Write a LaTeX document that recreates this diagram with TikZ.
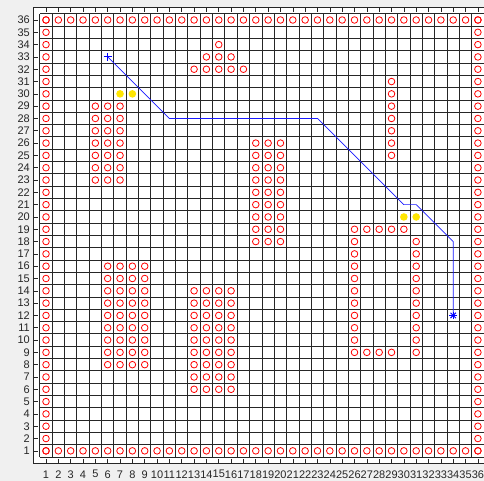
\documentclass[tikz,border=0pt]{standalone}
\usepackage{fontspec}
\setmainfont{Liberation Sans}
\definecolor{figbg}{HTML}{F0F0F0}
\definecolor{axgray}{HTML}{262626}
\definecolor{dotyellow}{HTML}{FFE600}
\tikzset{
  gridline/.style={draw=black!85, line width=0.9pt},
  axisline/.style={draw=axgray, line width=0.6pt},
  ticklabel/.style={font=\fontsize{11}{12}\selectfont, text=axgray, inner sep=0pt},
  obst/.style={draw=red, line width=0.8pt},
  goaldot/.style={fill=dotyellow, draw=none},
  pathline/.style={draw=blue!90, line width=0.7pt},
  markline/.style={draw=blue, line width=1pt}
}
\begin{document}
\begin{tikzpicture}[x=1pt,y=1pt]
\fill[figbg] (0,0) rectangle (484,481);
\useasboundingbox (0,0) rectangle (484,481);
\begin{scope}[shift={(33.66pt,17.84pt)}, x=12.34pt, y=12.31pt]
  \fill[white] (0,0) rectangle (37,37);
  % grid
  \foreach \i in {0,...,36} {
    \draw[gridline] (\i+0.5,0.5) -- (\i+0.5,36.5);
    \draw[gridline] (0.5,\i+0.5) -- (36.5,\i+0.5);
  }
  % axes box and ticks
  \draw[axisline] (37,37) -- (0,37) -- (0,0) -- (37,0);
  \foreach \i in {1,...,36} {
    \draw[axisline] (\i,0) -- ++(0,4.5pt);
    \draw[axisline] (\i,37) -- ++(0,-4.5pt);
    \draw[axisline] (0,\i) -- ++(4.5pt,0);
    \node[ticklabel, anchor=east] (yl\i) at (-0.3,\i) {\i};
    \node[ticklabel] (xl\i) at (\i,-0.9) {\i};
  }
  % border obstacles
  \foreach \i in {1,...,36} {
    \draw[obst] (\i,1) circle[radius=3.3pt];
    \draw[obst] (\i,36) circle[radius=3.3pt];
    \draw[obst] (1,\i) circle[radius=3.3pt];
    \draw[obst] (36,\i) circle[radius=3.3pt];
  }
  % block left top
  \foreach \x in {5,6,7} \foreach \y in {23,...,29} \draw[obst] (\x,\y) circle[radius=3.3pt];
  % triangle
  \foreach \x in {13,...,17} \draw[obst] (\x,32) circle[radius=3.3pt];
  \foreach \x in {14,15,16} \draw[obst] (\x,33) circle[radius=3.3pt];
  \draw[obst] (15,34) circle[radius=3.3pt];
  % middle block
  \foreach \x in {18,19,20} \foreach \y in {18,...,26} \draw[obst] (\x,\y) circle[radius=3.3pt];
  % lower left block
  \foreach \x in {6,...,9} \foreach \y in {8,...,16} \draw[obst] (\x,\y) circle[radius=3.3pt];
  % lower middle block
  \foreach \x in {13,...,16} \foreach \y in {6,...,14} \draw[obst] (\x,\y) circle[radius=3.3pt];
  % right column
  \foreach \y in {25,...,31} \draw[obst] (29,\y) circle[radius=3.3pt];
  % C shape
  \foreach \x in {26,...,30} \draw[obst] (\x,19) circle[radius=3.3pt];
  \foreach \y in {9,...,18} \draw[obst] (26,\y) circle[radius=3.3pt];
  \foreach \x in {27,28,29} \draw[obst] (\x,9) circle[radius=3.3pt];
  \foreach \y in {9,...,18} \draw[obst] (31,\y) circle[radius=3.3pt];
  % yellow dots
  \foreach \p in {(7,30),(8,30),(30,20),(31,20)} \fill[goaldot] \p circle[radius=3.8pt];
  % path
  \coordinate (S) at (6,33);
  \coordinate (a) at (11,28);
  \coordinate (b) at (23,28);
  \coordinate (c) at (30,21);
  \coordinate (d) at (31,21);
  \coordinate (e) at (34,18);
  \coordinate (G) at (34,12);
  \draw[pathline] (S) -- (a) -- (b) -- (c) -- (d) -- (e) -- (G);
  % start marker +
  \draw[markline] (S) ++(-3.8pt,0) -- ++(7.6pt,0);
  \draw[markline] (S) ++(0,-3.8pt) -- ++(0,7.6pt);
  % goal marker *
  \draw[markline] (G) ++(-3.8pt,0) -- ++(7.6pt,0);
  \draw[markline] (G) ++(0,-3.8pt) -- ++(0,7.6pt);
  \draw[markline] (G) ++(-2.7pt,-2.7pt) -- ++(5.4pt,5.4pt);
  \draw[markline] (G) ++(-2.7pt,2.7pt) -- ++(5.4pt,-5.4pt);
\end{scope}
\end{tikzpicture}
\end{document}
